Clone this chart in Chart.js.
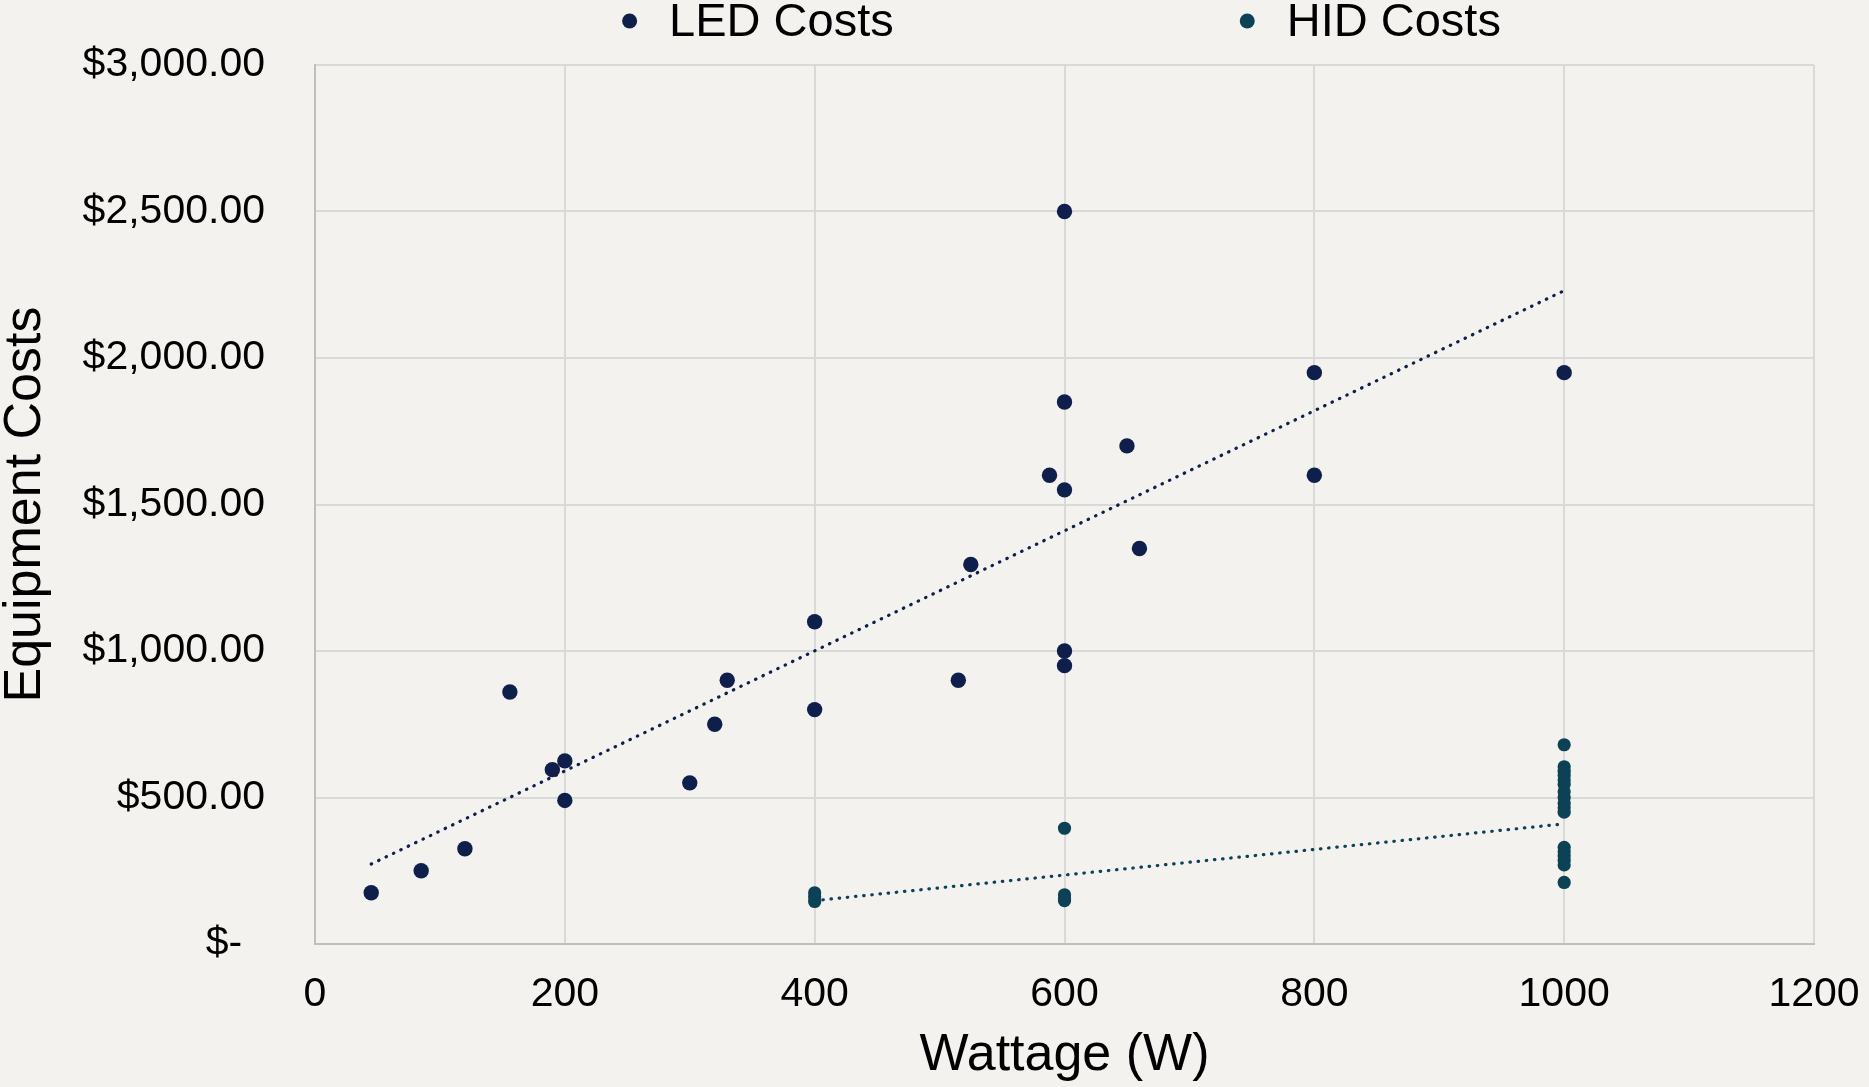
<!DOCTYPE html>
<html>
<head>
<meta charset="utf-8">
<script src="https://cdn.jsdelivr.net/npm/chart.js@4/dist/chart.umd.min.js"></script>
<style>
  html, body { margin: 0; padding: 0; background: #f3f2ef; }
  #wrap { width: 1869px; height: 1087px; }
</style>
</head>
<body>
<div id="wrap"><canvas id="c" width="1869" height="1087"></canvas></div>
<script>
// ---- data ----
const seriesNames = ['LED Costs', 'HID Costs'];

const ledWatts = [45, 85, 120, 156, 190, 200, 200, 300, 320, 330, 400, 400, 515, 525, 588,
                  600, 600, 600, 600, 600, 650, 660, 800, 800, 1000];
const ledCosts = [175, 250, 325, 860, 595, 625, 490, 550, 750, 900, 1100, 800, 900, 1295, 1600,
                  2500, 1850, 1550, 1000, 950, 1700, 1350, 1950, 1600, 1950];

const hidWatts = [400, 400, 400, 600, 600, 600, 600,
                  1000, 1000, 1000, 1000, 1000, 1000, 1000, 1000, 1000,
                  1000, 1000, 1000, 1000, 1000, 1000, 1000, 1000];
const hidCosts = [175, 160, 145, 168, 155, 148, 395,
                  680, 605, 590, 575, 560, 545, 520, 500, 480,
                  465, 450, 330, 315, 300, 285, 270, 210];

// trendline end points
const ledTrendWatts = [45, 1000];
const ledTrendCosts = [273, 2230];
const hidTrendWatts = [400, 1000];
const hidTrendCosts = [148, 410];

const xTickValues = [0, 200, 400, 600, 800, 1000, 1200];
const yTickValues = [0, 500, 1000, 1500, 2000, 2500, 3000];
const yTickLabels = ['$-  ', '$500.00', '$1,000.00', '$1,500.00', '$2,000.00', '$2,500.00', '$3,000.00'];

const xTitle = 'Wattage (W)';
const yTitle = 'Equipment Costs';

// ---- styling ----
const LED_COLOR = '#0f1f4b';
const HID_COLOR = '#0d4156';
const FONT = '"Liberation Sans", Arial, sans-serif';

const toPts = (xs, ys) => xs.map((x, i) => ({ x: x, y: ys[i] }));

const legendPlugin = {
  id: 'topLegend',
  afterDraw(chart) {
    const ctx = chart.ctx;
    const area = chart.chartArea;
    const items = chart.data.datasets.filter(d => d.inLegend);
    ctx.save();
    ctx.font = '47px ' + FONT;
    const r = 7.5, gapText = 32, gapItems = 346;
    const widths = items.map(d => 2 * r + gapText + ctx.measureText(d.label).width);
    const total = widths.reduce((a, b) => a + b, 0) + gapItems * (items.length - 1);
    let x = (area.left + area.right) / 2 - total / 2 - 3;
    const baseY = 36;
    items.forEach((d, i) => {
      ctx.fillStyle = d.backgroundColor;
      ctx.beginPath();
      ctx.arc(x + r, 21, r, 0, Math.PI * 2);
      ctx.fill();
      ctx.fillStyle = '#000';
      ctx.textAlign = 'left';
      ctx.textBaseline = 'alphabetic';
      ctx.fillText(d.label, x + 2 * r + gapText, baseY);
      x += widths[i] + gapItems;
    });
    ctx.restore();
  }
};

new Chart(document.getElementById('c'), {
  type: 'scatter',
  data: {
    datasets: [
      {
        type: 'line', label: 'LED trend', data: toPts(ledTrendWatts, ledTrendCosts),
        borderColor: LED_COLOR, borderWidth: 3.2, borderDash: [0.5, 7.7], borderCapStyle: 'round',
        pointRadius: 0, fill: false, order: 0
      },
      {
        type: 'line', label: 'HID trend', data: toPts(hidTrendWatts, hidTrendCosts),
        borderColor: HID_COLOR, borderWidth: 3.2, borderDash: [0.5, 7.7], borderCapStyle: 'round',
        pointRadius: 0, fill: false, order: 0
      },
      {
        label: seriesNames[0], inLegend: true, data: toPts(ledWatts, ledCosts),
        backgroundColor: LED_COLOR, borderColor: LED_COLOR, borderWidth: 0,
        pointRadius: 7.7, pointHoverRadius: 7.7, order: 2
      },
      {
        label: seriesNames[1], inLegend: true, data: toPts(hidWatts, hidCosts),
        backgroundColor: HID_COLOR, borderColor: HID_COLOR, borderWidth: 0,
        pointRadius: 6.6, pointHoverRadius: 6.6, order: 1
      }
    ]
  },
  options: {
    responsive: false,
    animation: false,
    devicePixelRatio: 1,
    layout: { padding: { top: 65, right: 55, bottom: 0, left: 0 } },
    plugins: {
      legend: { display: false },
      tooltip: { enabled: false }
    },
    scales: {
      x: {
        type: 'linear', min: 0, max: 1200,
        afterBuildTicks: s => { s.ticks = xTickValues.map(v => ({ value: v })); },
        afterFit: s => { s.height = 143; s.paddingLeft = 0; s.paddingRight = 0; },
        grid: { color: '#d9d9d9', lineWidth: 2, drawTicks: false },
        border: { color: '#bfbfbf', width: 2 },
        ticks: {
          padding: 26, color: '#000', maxRotation: 0,
          font: { family: FONT, size: 41 },
          callback: v => String(v)
        },
        title: {
          display: true, text: xTitle, color: '#000',
          font: { family: FONT, size: 52, lineHeight: 1.2 },
          padding: { top: 0, bottom: 0 }
        }
      },
      y: {
        type: 'linear', min: 0, max: 3000,
        afterBuildTicks: s => { s.ticks = yTickValues.map(v => ({ value: v })); },
        afterFit: s => { s.width = 315; s.paddingTop = 0; s.paddingBottom = 0; },
        grid: { color: '#d9d9d9', lineWidth: 2, drawTicks: false },
        border: { color: '#bfbfbf', width: 2 },
        ticks: {
          padding: 50, color: '#000',
          font: { family: FONT, size: 41 },
          callback: (v) => yTickLabels[yTickValues.indexOf(v)]
        },
        title: {
          display: true, text: yTitle, color: '#000',
          font: { family: FONT, size: 52, lineHeight: 1 },
          padding: { top: 0, bottom: 0 }
        }
      }
    }
  },
  plugins: [legendPlugin]
});
</script>
</body>
</html>
